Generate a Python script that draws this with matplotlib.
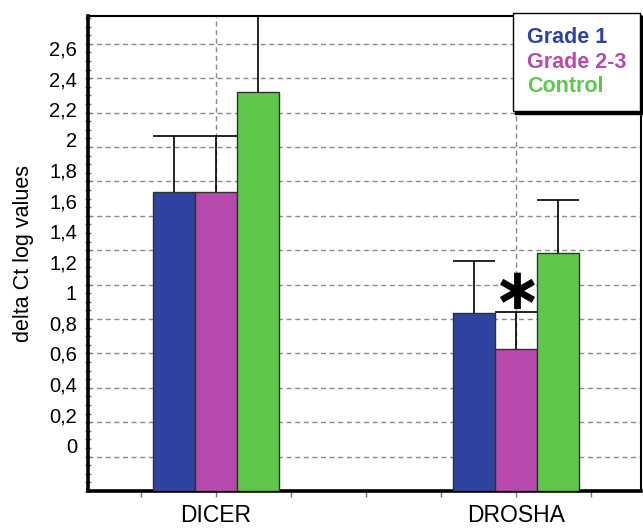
import numpy as np
import matplotlib.pyplot as plt
from matplotlib.ticker import MultipleLocator

plt.rcParams['font.family'] = ['Liberation Sans', 'DejaVu Sans']

genes = ['DICER', 'DROSHA']
groups = ['Grade 1', 'Grade 2-3', 'Control']
colors = ['#2e43a0', '#b94aad', '#5fc74c']

# mean and upper error per gene, one list per group
means = {
    'Grade 1':   [1.74, 1.033],
    'Grade 2-3': [1.74, 0.826],
    'Control':   [2.32, 1.386],
}
errors = {
    'Grade 1':   [0.326, 0.304],
    'Grade 2-3': [0.326, 0.216],
    'Control':   [0.44, 0.306],
}

tick_values = [0, 0.2, 0.4, 0.6, 0.8, 1, 1.2, 1.4, 1.6, 1.8, 2, 2.2, 2.4, 2.6]
tick_labels = ['0', '0,2', '0,4', '0,6', '0,8', '1', '1,2', '1,4', '1,6', '1,8',
               '2', '2,2', '2,4', '2,6']

fig = plt.figure(figsize=(6.43, 5.28), dpi=100)
ax = fig.add_axes([88/643, 37/528, 553/643, 475/528])

x = np.arange(len(genes))
width = 0.141
grid_dash = (0, (3.6, 2.6))

for i, g in enumerate(groups):
    xs = x + (i - 1) * width
    ax.bar(xs, means[g], width, color=colors[i], edgecolor='#303030',
           linewidth=1, zorder=3)
    tops = np.array(means[g]) + np.array(errors[g])
    ax.vlines(xs, means[g], tops, color='black', linewidth=1.2, zorder=4)
    ax.hlines(tops, xs - width/2, xs + width/2, color='black', linewidth=1.2,
              zorder=4, clip_on=False)

# significance mark over Grade 2-3 DROSHA
ax.text(x[1], means['Grade 2-3'][1] + errors['Grade 2-3'][1] + 0.11, '\u2217',
        ha='center', va='center', fontsize=42, fontweight='bold',
        family='DejaVu Sans', zorder=5)

for v in np.arange(0.2, 2.61, 0.2):
    ax.axhline(v, color='#8a8a8a', linewidth=1, linestyle=grid_dash, zorder=1)
for xv in x:
    ax.axvline(xv, color='#8a8a8a', linewidth=1, linestyle=grid_dash, zorder=1)

ax.set_xlim(-0.4267, 1.4167)
ax.set_ylim(0, 2.762)

ax.set_xticks(x)
ax.set_xticklabels(genes, fontsize=16.5)
ax.xaxis.set_minor_locator(MultipleLocator(0.25))
ax.tick_params(axis='x', which='both', direction='out', length=4, width=1,
               color='#777777', pad=5)

# labels sit on their own spacing along the axis
label_pos = 0.267 + 0.888 * np.array(tick_values)
ax.set_yticks(label_pos)
ax.set_yticklabels(tick_labels, fontsize=14.5)
ax.tick_params(axis='y', which='major', length=0, pad=8)
ax.yaxis.set_minor_locator(MultipleLocator(0.05))
ax.tick_params(axis='y', which='minor', direction='inout', length=5, width=1,
               color='#777777')

ax.set_ylabel('delta Ct log values', fontsize=15.5, labelpad=11)

for side, lw in [('left', 2.6), ('bottom', 2.6), ('top', 1.5), ('right', 1.5)]:
    ax.spines[side].set_linewidth(lw)
    ax.spines[side].set_color('black')

handles = [plt.Rectangle((0, 0), 0, 0, visible=False) for _ in groups]
leg = fig.legend(handles, groups, loc='upper right',
                 bbox_to_anchor=(640/643, 515/528), frameon=True,
                 fancybox=False, shadow={'color': 'black', 'alpha': 1},
                 handlelength=0, handletextpad=0, borderpad=0.65,
                 labelspacing=0.17, borderaxespad=0,
                 prop={'weight': 'bold', 'size': 15.5})
leg.get_frame().set_edgecolor('black')
leg.get_frame().set_linewidth(1)
for t, c in zip(leg.get_texts(), colors):
    t.set_color(c)

fig.savefig('out.png', dpi=100)
